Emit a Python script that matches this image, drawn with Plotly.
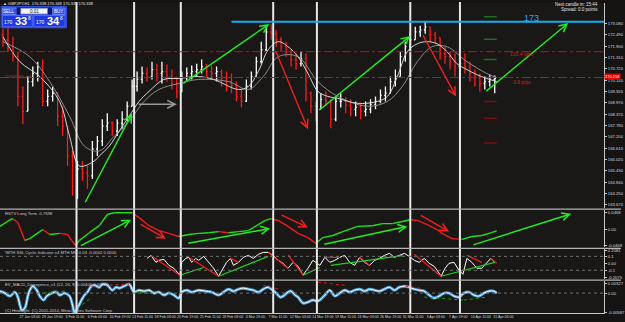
import plotly.graph_objects as go

# ---------------- data ----------------
# time axis: candle index, each candle ~14 H1 bars
candle_idx = list(range(100))
open_first = 172.49
close_px = [172.23,171.87,171.35,169.29,168.52,170.06,170.48,170.84,169.03,169.29,
            169.45,168.26,167.75,166.20,164.65,165.53,165.32,165.17,166.56,166.97,
            167.75,167.90,167.49,167.90,168.11,168.78,169.81,170.17,170.48,170.32,
            170.68,170.48,170.58,170.37,169.96,169.55,170.27,170.48,170.58,170.68,
            170.84,170.58,170.48,170.58,170.27,170.06,169.86,169.29,169.03,169.81,
            170.32,171.09,171.71,172.64,172.54,172.23,171.87,171.61,171.20,170.99,
            171.25,169.45,168.78,168.62,169.14,169.03,168.11,169.03,169.03,168.83,
            168.62,168.72,168.52,168.62,168.88,169.03,169.34,169.45,170.06,170.32,
            171.35,171.87,172.23,172.64,172.74,172.90,172.49,172.33,171.51,171.35,
            171.09,170.84,170.99,170.84,170.48,170.27,169.96,170.06,170.17,170.22]
high_px = [172.80,172.90,172.38,171.61,169.81,170.32,170.84,171.09,171.20,169.65,
           169.81,169.50,168.78,167.75,166.46,165.94,165.94,165.68,166.97,167.23,
           168.11,168.41,168.00,168.11,168.52,169.03,170.17,170.58,170.84,170.79,
           171.09,170.99,171.09,170.94,170.68,170.32,170.58,170.79,170.89,170.99,
           171.20,170.99,170.89,170.84,170.68,170.58,170.48,170.06,169.65,170.17,
           170.58,171.35,172.13,172.90,173.05,172.74,172.38,172.13,171.71,171.51,
           171.61,171.51,169.55,169.03,169.45,169.55,169.14,169.29,169.45,169.24,
           169.14,169.03,168.93,169.03,169.14,169.29,169.65,169.81,170.32,170.68,
           171.61,172.13,172.64,172.90,172.95,173.16,172.90,172.64,172.35,171.87,
           171.61,171.51,171.35,171.51,171.09,170.68,170.48,170.32,170.42,170.37]
low_px = [171.87,171.61,171.09,168.78,167.85,168.52,169.81,170.06,168.78,168.78,
          169.03,167.75,167.23,165.68,164.13,163.98,164.91,164.50,165.01,166.20,
          166.71,167.49,167.23,167.23,167.59,168.00,168.78,169.55,169.96,170.06,
          170.17,170.06,169.96,170.06,169.65,169.19,169.50,170.06,170.17,170.32,
          170.48,170.27,170.17,170.06,169.81,169.55,169.45,169.03,168.72,169.00,
          169.65,170.32,170.99,171.65,172.23,171.87,171.61,171.35,170.84,170.68,
          170.84,169.03,168.41,168.00,168.62,168.78,167.64,168.00,168.72,168.41,
          168.26,168.26,168.11,168.26,168.41,168.62,168.93,169.03,169.45,169.81,
          170.32,171.09,171.61,172.23,172.38,172.54,172.13,172.02,171.20,170.99,
          170.68,170.32,170.17,170.48,170.06,169.81,169.55,169.65,169.81,169.45]
open_px = [open_first] + close_px[:-1]

ma_fast_x = [0,3.4,7.4,11.4,13.4,15.4,18.4,19.4,21.4,23.4,25.4,27.4,29.4,32.4,35.4,39.4,42.4,47.4,49.4,51.4,
             53.4,55.4,57.4,59.4,61.4,63.4,65.4,67.4,71.4,75.4,77.4,79.4,81.4,83.4,85.4,87.4,89.4,91.4,93.4,95.4,97.4,99.4]
ma_fast_y = [172.38,171.09,170.32,169.03,167.23,165.68,165.94,166.20,166.71,167.49,168.26,169.03,169.55,170.17,170.22,170.32,170.17,169.65,169.81,170.58,
             171.71,172.13,171.87,171.35,170.48,169.55,169.29,169.19,168.93,169.03,169.29,170.32,171.61,172.02,172.13,172.02,171.61,170.99,170.68,170.42,170.22,170.06]
ma_slow_x = [0,5.4,9.4,13.4,16.4,19.4,22.4,25.4,28.4,31.4,35.4,39.4,45.4,49.4,52.4,55.4,59.4,63.4,67.4,73.4,77.4,80.4,83.4,86.4,89.4,93.4,97.4,99.4]
ma_slow_y = [172.13,171.35,170.06,168.26,166.71,166.46,167.23,168.00,169.03,169.65,169.96,170.17,170.06,169.65,170.32,171.35,171.35,170.06,169.29,168.78,169.03,169.81,171.09,171.87,171.87,171.09,170.48,170.27]

pivot_green = [173.42, 172.25, 171.20]
pivot_red = [169.03, 168.16, 166.87]
pivot_span = [96.8, 99.4]

blue_level = 173.16
red_levels = [171.61, 170.27]
last_price = 170.218
main_ticks = [173.080,172.490,171.900,171.310,170.720,170.140,169.555,168.970,168.370,
              167.780,167.200,166.610,166.020,165.430,164.840,164.250,163.670]

rsi_x = [-0.6,1.4,2,3,4.4,5.4,7.4,8,9.4,11.4,13,13.8,14.6,15.4,17.4,19.4,21,22.4,24.4,26,
         27.4,29.4,31.4,33.4,35.4,37.4,39.4,41.4,43.4,45.4,47.4,49.4,51.4,52.8,54,55.4,57.4,59.4,61.4,63,
         64.4,66.4,68.4,71.4,74.4,76.4,78.4,80.4,82,83.4,85.4,87.4,88.4,90.4,92.4,94.4,96.4,98.4,99.4]
rsi_v = [0.009,0.028,0.031,0.020,-0.031,-0.026,-0.006,0,-0.014,-0.011,-0.014,-0.031,-0.045,-0.031,-0.009,0.011,0.043,0.048,0.048,0.048,
         0.034,0.011,-0.003,-0.011,-0.020,-0.014,-0.011,-0.009,-0.006,-0.009,-0.006,-0.003,0.014,0.026,0.031,0.026,0.009,-0.011,-0.023,-0.040,
         -0.023,-0.017,-0.006,0.009,0.011,0.017,0.017,0.023,0.028,0.026,0.014,0,-0.011,-0.026,-0.028,-0.020,-0.017,-0.009,-0.003]

ssl_x = [29,29.8,30.8,31.4,32.4,33.4,34.4,35,35.6,36,36.8,37.4,38,38.8,39.4,40.4,41.4,42.4,43.4,44.4,
         45,45.8,46.4,47.4,48.4,49.4,50.4,51.4,52.4,53.4,54.4,55.4,56.4,57.4,58.4,59.4,60.4,61.4,62.4,63.8,
         64.8,65.8,66.8,67.8,68.8,69.8,70.8,71.8,72.8,73.8,74.8,75.8,76.8,77.8,78.8,79.8,80.8,81.8,82.8,83.8,
         84.8,85.8,86.8,87.4,88.2,89,89.8,90.8,91.8,92.6,93.4,94.4,95.4,96.4,97.4,98.2,99]
ssl_w = [0.071,0.114,0.014,0.043,0.057,-0.029,-0.071,-0.129,-0.171,0.014,0.071,0.086,0.014,0.071,0.043,0.1,0.014,-0.071,-0.186,-0.071,
         0.014,0.071,-0.029,0.014,0.086,0.114,0.071,0.129,0.157,0.157,0.114,0.043,0,-0.071,0.014,-0.043,-0.171,-0.071,0.043,-0.029,
         0.086,0.014,0.043,0.086,0.114,0.014,-0.029,0.086,0.014,-0.029,0.043,0.071,0.114,0.143,0.086,0.114,0.143,0.1,0.043,0.014,
         0.071,0,-0.043,-0.1,-0.186,-0.071,0,0.014,-0.1,-0.157,0.071,0.014,-0.071,-0.071,0.014,0.071,0.014]
ssl_red = [((29.8,0.114),(35.6,-0.171)), ((37.4,0.086),(43.4,-0.186)), ((45.8,0.071),(47.4,0.014)),
           ((53.4,0.157),(57.4,-0.071)), ((57.4,0.12),(60.4,-0.171)), ((64.8,0.086),(67.8,0.086)),
           ((71.8,0.086),(73.8,-0.029)), ((82.8,0.13),(88.2,-0.186)), ((93.4,0.114),(96.4,0.014)),
           ((98.2,0.071),(99.4,0.0))]
ssl_green = [((35.6,-0.171),(40.4,-0.06)), ((43.4,-0.186),(53.4,0.1)), ((60.4,-0.171),(63.8,-0.06)),
             ((66.0,-0.03),(80.4,0.11)), ((88.2,-0.186),(99.0,0.014))]

macd_x = [-0.6,0.4,1.4,2.4,3,3.4,3.8,4.4,5,5.4,6,6.8,7.4,8.2,8.8,9.8,10.8,11.4,12.4,13.4,
          14,14.4,15,15.8,16.4,17,17.8,18.4,19.4,20,21,22,22.8,23.4,24.4,25.4,26,26.4,27.4,28.4,
          29.4,30.4,31.4,32.4,33.4,34.4,35.4,36,37,38,39.4,40.8,42,43.4,44.4,45.4,46.4,47.4,48.4,49.4,
          50.4,51.4,52.4,53.4,54,55,55.8,56.4,57.4,58,58.8,59.4,60.4,61.4,62.4,63.4,64.8,65.8,66.8,67.8,
          68.8,69.8,70.8,71.8,72.8,73.8,74.8,75.8,76.8,77.8,78.8,79.8,80.8,81.8,82.8,83.8,84.8,85.8,86.8,87.8,
          88.8,89.8,90.8,91.8,92.8,93.8,94.8,95.8,96.8,97.8,98.8,99.4]
macd_v = [0.00065,0,-0.00098,0.00033,-0.00131,-0.00392,-0.00556,-0.00491,-0.00098,0.00098,
          0.00229,0.00098,-0.00098,-0.00229,-0.00098,0,0.00033,-0.00065,0,-0.00098,
          -0.00392,-0.00621,-0.00491,-0.00229,-0.00065,0.00033,0.00229,0.00262,0.00196,0.00294,
          0.00262,0.00098,0.00196,0.00164,0.00229,0.00294,0.00131,0.00033,0.00098,0.00065,
          0.00098,0,0.00033,-0.00065,0,-0.00065,-0.00164,0.00033,0.00098,0.00033,
          0.00098,0.00065,0.00033,-0.00065,0.00033,0.00131,0.00065,0.00131,0.00164,0.00131,
          0.00098,0.00033,0.00131,0.00196,0.00131,0,-0.00131,-0.00098,0.00033,0.00065,
          -0.00065,-0.00131,-0.00327,-0.00294,-0.00229,-0.00262,-0.00065,0.00098,-0.00098,0,
          0.00098,0.00033,0.00098,0.00131,0.00065,0.00131,0.00098,0.00065,0.00131,0.00196,
          0.00098,0.00196,0.00229,0.00196,0.00131,0.00098,0.00065,-0.00065,-0.00164,-0.00098,
          0,0,-0.00098,-0.00131,0,0.00033,-0.00065,-0.00098,0,0.00065,0.00065,0]
macd_red = [((17.8,0.00229),(25.4,0.00294)), ((52.4,0.00262),(55.4,0.0013)),
            ((63.4,0.0036),(68.8,0.0026)), ((79.8,0.0026),(84.0,0.0016))]
macd_green = [((8.2,0.0),(12.4,0.0007)), ((15.0,-0.0049),(17.4,-0.002)), ((26.4,0.0003),(29.4,0.0)),
              ((84.8,-0.0013),(92.8,-0.0023)), ((92.8,-0.0023),(97.4,-0.0013))]

x_tick_pos = [1.2] + [5.4 + 4.54 * k for k in range(22)]
x_tick_text = ["21 Jan 2014","27 Jan 03:00","29 Jan 19:00","3 Feb 11:00","6 Feb 03:00","10 Feb 19:00",
               "13 Feb 11:00","18 Feb 03:00","20 Feb 19:00","25 Feb 11:00","28 Feb 03:00","4 Mar 19:00",
               "7 Mar 11:00","12 Mar 03:00","14 Mar 19:00","19 Mar 11:00","24 Mar 03:00","26 Mar 19:00",
               "31 Mar 11:00","3 Apr 03:00","7 Apr 19:00","10 Apr 11:00","15 Apr 03:00"]

period_lines = [14.8, 26.4, 35.8, 54.4, 63.2, 82.0, 92.0]

# drawn trend arrows (tail, head)
main_arrows = [((16.4,163.72),(26.0,168.41),'#22ee22'), ((27.0,168.88),(35.0,168.88),'#9a9a9a'),
               ((36.0,169.91),(53.6,173.05),'#22ee22'), ((54.8,171.71),(61.4,167.59),'#ee2020'),
               ((63.4,168.52),(82.0,172.43),'#22ee22'), ((84.4,172.54),(91.2,169.29),'#ee2020'),
               ((97.0,169.50),(113.8,173.10),'#22ee22')]
rsi_arrows = [((15.4,-0.048),(25.8,0.028),'#22ee22'), ((27.4,0.017),(32.8,-0.026),'#ee2020'),
              ((37.0,-0.040),(53.8,0.003),'#22ee22'), ((55.8,0.043),(61.4,0.006),'#ee2020'),
              ((64.4,-0.043),(81.4,0.009),'#22ee22'), ((83.8,0.043),(89.8,-0.006),'#ee2020'),
              ((94.4,-0.045),(114.4,0.045),'#22ee22')]

# ---------------- layout helpers (pixel -> paper) ----------------
W, H = 625, 322
MR, MB = 17, 9
PW, PH = W - MR, H - MB
def pxx(v): return v / PW
def pxy(v): return (PH - v) / PH

FONT = "Liberation Sans"
AX = '#c8c8c8'

fig = go.Figure()

fig.add_trace(go.Ohlc(
    x=candle_idx, open=open_px, high=high_px, low=low_px, close=close_px,
    increasing=dict(line=dict(color='#ffffff', width=1.3)),
    decreasing=dict(line=dict(color='#ff1a1a', width=1.3)),
    tickwidth=0.25, xaxis='x', yaxis='y', showlegend=False, hoverinfo='skip'))
fig.add_trace(go.Scatter(x=ma_slow_x, y=ma_slow_y, mode='lines', line=dict(color='#8c8c8c', width=1, shape='spline'),
                         xaxis='x', yaxis='y', showlegend=False, hoverinfo='skip'))
fig.add_trace(go.Scatter(x=ma_fast_x, y=ma_fast_y, mode='lines', line=dict(color='#d6d6d6', width=1, shape='spline'),
                         xaxis='x', yaxis='y', showlegend=False, hoverinfo='skip'))

def seg_xy(levels, span):
    xs, ys = [], []
    for lv in levels:
        xs += [span[0], span[1], None]
        ys += [lv, lv, None]
    return xs, ys

gx, gy = seg_xy(pivot_green, pivot_span)
rx, ry = seg_xy(pivot_red, pivot_span)
fig.add_trace(go.Scatter(x=gx, y=gy, mode='lines', line=dict(color='#1f6b1f', width=1.5), xaxis='x', yaxis='y', showlegend=False))
fig.add_trace(go.Scatter(x=rx, y=ry, mode='lines', line=dict(color='#7a1010', width=1.5), xaxis='x', yaxis='y', showlegend=False))

# RSI coloured line
up_x, up_y, dn_x, dn_y = [], [], [], []
for k in range(len(rsi_x) - 1):
    if rsi_v[k + 1] >= rsi_v[k]:
        up_x += [rsi_x[k], rsi_x[k + 1], None]; up_y += [rsi_v[k], rsi_v[k + 1], None]
    else:
        dn_x += [rsi_x[k], rsi_x[k + 1], None]; dn_y += [rsi_v[k], rsi_v[k + 1], None]
fig.add_trace(go.Scatter(x=dn_x, y=dn_y, mode='lines', line=dict(color='#ee1c1c', width=1.4), xaxis='x', yaxis='y2', showlegend=False))
fig.add_trace(go.Scatter(x=up_x, y=up_y, mode='lines', line=dict(color='#20e020', width=1.4), xaxis='x', yaxis='y2', showlegend=False))

def pairs_xy(pairs):
    xs, ys = [], []
    for a, b in pairs:
        xs += [a[0], b[0], None]; ys += [a[1], b[1], None]
    return xs, ys

fig.add_trace(go.Scatter(x=ssl_x, y=ssl_w, mode='lines', line=dict(color='#ffffff', width=1), xaxis='x', yaxis='y3', showlegend=False))
sx, sy = pairs_xy(ssl_red)
fig.add_trace(go.Scatter(x=sx, y=sy, mode='lines', line=dict(color='#ff1a1a', width=1.2), xaxis='x', yaxis='y3', showlegend=False))
sx, sy = pairs_xy(ssl_green)
fig.add_trace(go.Scatter(x=sx, y=sy, mode='lines', line=dict(color='#1ed01e', width=1.2), xaxis='x', yaxis='y3', showlegend=False))

fig.add_trace(go.Scatter(x=macd_x, y=macd_v, mode='lines', line=dict(color='#4d9fd6', width=3, shape='spline'), xaxis='x', yaxis='y4', showlegend=False))
fig.add_trace(go.Scatter(x=macd_x, y=macd_v, mode='lines', line=dict(color='#ffffff', width=1, shape='spline'), xaxis='x', yaxis='y4', showlegend=False))
sx, sy = pairs_xy(macd_red)
fig.add_trace(go.Scatter(x=sx, y=sy, mode='lines', line=dict(color='#e01818', width=1, dash='dot'), xaxis='x', yaxis='y4', showlegend=False))
sx, sy = pairs_xy(macd_green)
fig.add_trace(go.Scatter(x=sx, y=sy, mode='lines', line=dict(color='#18a018', width=1, dash='dot'), xaxis='x', yaxis='y4', showlegend=False))

shapes = []
for xv in period_lines:
    shapes.append(dict(type='line', xref='x', yref='paper', x0=xv, x1=xv, y0=0, y1=1,
                       line=dict(color='#e8e8e8', width=2), layer='above'))
for lv in red_levels:
    shapes.append(dict(type='line', xref='x domain', yref='y', x0=0, x1=1, y0=lv, y1=lv,
                       line=dict(color='#b81414', width=1, dash='dashdot')))
shapes.append(dict(type='line', xref='x', yref='y', x0=46, x1=121, y0=blue_level, y1=blue_level,
                   line=dict(color='#12aef0', width=2)))
for lv in [0.1, -0.1]:
    shapes.append(dict(type='line', xref='x domain', yref='y3', x0=0, x1=1, y0=lv, y1=lv,
                       line=dict(color='#707070', width=1, dash='dot')))
shapes.append(dict(type='line', xref='x domain', yref='y4', x0=0, x1=1, y0=0, y1=0,
                   line=dict(color='#707070', width=1, dash='dot')))
for yy in [208.5, 248, 280]:
    shapes.append(dict(type='line', xref='paper', yref='paper', x0=0, x1=W / PW, y0=pxy(yy), y1=pxy(yy),
                       line=dict(color='#b4b4b4', width=1.2)))

# one-click trading panel
def rect(x0, y0, x1, y1, fill, border=None, w=0.8):
    return dict(type='rect', xref='paper', yref='paper', x0=pxx(x0), x1=pxx(x1), y0=pxy(y1), y1=pxy(y0),
                fillcolor=fill, line=dict(color=border or fill, width=w), layer='above')
shapes += [rect(1, 4.5, 67, 26, '#1a2fc4', '#3a56e8'),
           rect(2.5, 6, 16.5, 12.5, '#2f55f0', '#7d95ff'),
           rect(17, 6.5, 21, 12, '#0a1870', '#0a1870'),
           rect(21, 6.5, 48, 12, '#f2f2f2', '#9aa6d0'),
           rect(48.5, 6.5, 52.5, 12, '#0a1870', '#0a1870'),
           rect(53, 6, 65.5, 12.5, '#2f55f0', '#7d95ff'),
           rect(2.5, 13.5, 32.5, 25, '#1d38dc', '#5f7cff'),
           rect(34, 13.5, 65.5, 25, '#1d38dc', '#5f7cff')]

anns = []
def arrow(tail, head, color, yref):
    return dict(x=head[0], y=head[1], ax=tail[0], ay=tail[1], xref='x', yref=yref, axref='x', ayref=yref,
                showarrow=True, arrowhead=5, arrowsize=1.1, arrowwidth=1.4, arrowcolor=color, text='', standoff=0)
for t, h, c in main_arrows:
    anns.append(arrow(t, h, c, 'y'))
for t, h, c in rsi_arrows:
    anns.append(arrow(t, h, c, 'y2'))

def ptext(x, y, s, size=5, color='#d0d0d0', xa='left', ya='middle', **kw):
    d = dict(x=pxx(x), y=pxy(y), xref='paper', yref='paper', text=s, showarrow=False, xanchor=xa, yanchor=ya,
             font=dict(family=FONT, size=size, color=color))
    d.update(kw)
    return d

anns += [
    ptext(1, 1.6, '▲ GBPJPY,H1  170.338 170.348 170.335 170.338', size=4, color='#e0e0e0'),
    ptext(9.5, 9.3, 'SELL', size=4.5, color='#ffffff', xa='center'),
    ptext(59.3, 9.3, 'BUY', size=4.5, color='#ffffff', xa='center'),
    ptext(34.5, 9.3, '0.01', size=4.5, color='#202020', xa='center'),
    ptext(9, 20.5, '170', size=5, color='#ffffff', xa='center'),
    ptext(21.5, 19.5, '<b>33</b>', size=11, color='#ffffff', xa='center'),
    ptext(29.5, 16.3, '8', size=5, color='#ffffff', xa='center'),
    ptext(41, 20.5, '170', size=5, color='#ffffff', xa='center'),
    ptext(53.5, 19.5, '<b>34</b>', size=11, color='#ffffff', xa='center'),
    ptext(61.5, 16.3, '8', size=5, color='#ffffff', xa='center'),
    ptext(604, 2.2, 'Next candle in: 15:44', size=4.5, color='#e0e0e0', xa='right'),
    ptext(604, 7.6, 'Spread: 0.0 points', size=4.5, color='#e0e0e0', xa='right'),
    ptext(2, 74.5, '#24570265 sell', size=4, color='#b04040'),
    ptext(3, 213, 'RSTV Long Term -0.7698', size=4.2, color='#c8c8c8'),
    ptext(3, 252, '!MTH SSL Cyclic Indicator v4 MTH MM 0.03 -0.0002 0.0000', size=4.2, color='#c8c8c8'),
    ptext(3, 284, 'EV_MACD_Divergence_v1 (12, 26, 9) 0.00400 0.00000', size=4.2, color='#c8c8c8'),
    ptext(3, 310.5, '(C) Hindsight  (C) 2001-2014, MetaQuotes Software Corp.', size=4.2, color='#c8c8c8'),
    dict(x=106.4, y=173.38, xref='x', yref='y', text='173', showarrow=False, xanchor='center', yanchor='middle',
         font=dict(family=FONT, size=9, color='#2aa8ea')),
    dict(x=104.5, y=171.47, xref='x', yref='y', text='133.4 pips', showarrow=False, xanchor='center',
         font=dict(family=FONT, size=5, color='#d02020')),
    dict(x=104.5, y=170.05, xref='x', yref='y', text='3.8 pips', showarrow=False, xanchor='center',
         font=dict(family=FONT, size=5, color='#d02020')),
    dict(x=1.0, y=last_price + 0.09, xref='paper', yref='y', text=f'{last_price:.3f}', showarrow=False, xanchor='left',
         yanchor='middle', bgcolor='#e00000', borderpad=0, font=dict(family=FONT, size=4, color='#ffffff')),
]

def yax(domain, rng, tv, tt):
    return dict(domain=domain, range=rng, side='right', anchor='x', showgrid=False, zeroline=False,
                showline=True, linecolor=AX, linewidth=1, ticks='outside', ticklen=2, tickcolor=AX,
                tickvals=tv, ticktext=tt, tickfont=dict(family=FONT, size=4.2, color='#d8d8d8'), fixedrange=True)

main_tick_pos = [v - 0.05 if abs(v - 170.14) < 1e-6 else v for v in main_ticks]

fig.update_layout(
    width=W, height=H, margin=dict(l=0, r=MR, t=0, b=MB),
    paper_bgcolor='#161313', plot_bgcolor='#1a1717', showlegend=False,
    xaxis=dict(domain=[0, 1], range=[-0.6, 121], anchor='y4', showgrid=False, zeroline=False,
               showline=True, linecolor=AX, ticks='', tickvals=x_tick_pos, ticktext=x_tick_text, tickangle=0,
               tickfont=dict(family=FONT, size=3.6, color='#d8d8d8'), rangeslider=dict(visible=False)),
    yaxis=yax([pxy(207), pxy(1)], [163.516, 174.137], main_tick_pos, [f'{v:.3f}' for v in main_ticks]),
    yaxis2=yax([pxy(247), pxy(209.5)], [-0.0511, 0.0554], [0.048, 0, -0.045], ['0.0468', '0.00', '-0.0468']),
    yaxis3=yax([pxy(279), pxy(249)], [-0.2286, 0.2], [0.186, 0.1, 0, -0.1, -0.2],
               ['0.2081', '0.1', '0.00', '-0.1', '-0.2075']),
    yaxis4=yax([pxy(313), pxy(281)], [-0.00654, 0.003924], [0.00327, 0, -0.0064], ['0.00327', '0.00', '-0.00587']),
    shapes=shapes, annotations=anns,
)

fig.write_html("out.html")
